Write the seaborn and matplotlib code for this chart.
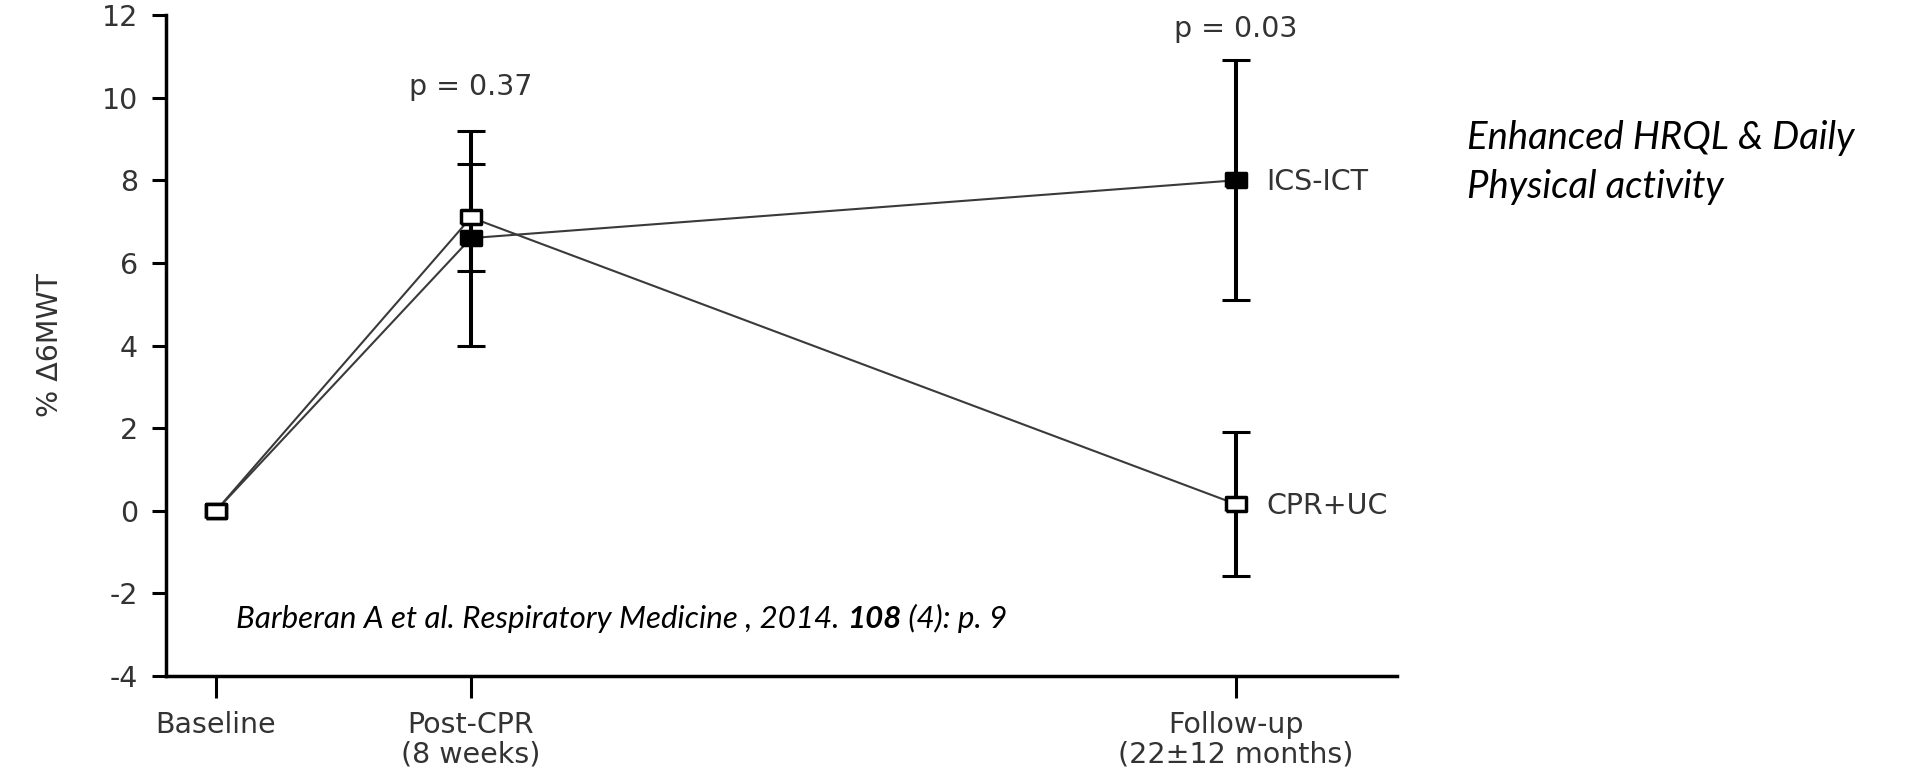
import pandas as pd
import seaborn as sns
import matplotlib.pyplot as plt

# 1. Dados (% de variação no 6MWT)
momentos = ['Baseline', 'Post-CPR\n(8 weeks)', 'Follow-up\n(22±12 months)']
posicao_x = [0, 1, 4]
grupos = ['ICS-ICT', 'CPR+UC']
ics_ict = [0, 6.6, 8.0]
ics_ict_erro = [0, 2.6, 2.9]
cpr_uc = [0, 7.1, 0.16]
cpr_uc_erro = [0, 1.3, 1.75]
p_valores = ['p = 0.37', 'p = 0.03']
y_ticks = [-4, -2, 0, 2, 4, 6, 8, 10, 12]

df = pd.DataFrame({
    'x': posicao_x * 2,
    'valor': ics_ict + cpr_uc,
    'erro': ics_ict_erro + cpr_uc_erro,
    'grupo': [grupos[0]] * 3 + [grupos[1]] * 3,
})

# 2. Estilo
sns.set_theme(style="ticks")
plt.rcParams['font.family'] = ['DejaVu Sans']
plt.rcParams['axes.unicode_minus'] = False
cor_texto = '#333333'
tam = 20.5

fig = plt.figure(figsize=(19.16, 7.71), dpi=100)
ax = fig.add_axes([0.0866, 0.1232, 0.6425, 0.8573])

# marcador retangular (os quadrados do artigo são achatados)
retangulo = [(-1.45, -1), (1.45, -1), (1.45, 1), (-1.45, 1), (-1.45, -1)]

# 3. Linhas, marcadores e barras de erro
for grupo, cor_face in [('ICS-ICT', 'black'), ('CPR+UC', 'white')]:
    d = df[df['grupo'] == grupo]
    e = d[d['erro'] > 0]
    ax.errorbar(e['x'], e['valor'], yerr=e['erro'], fmt='none', ecolor='black',
                elinewidth=2.9, capsize=10, capthick=2.2, zorder=2)
    sns.lineplot(data=d, x='x', y='valor', ax=ax, color='#3a3a3a', linewidth=1.5,
                 marker=retangulo, markersize=14.5, markerfacecolor=cor_face,
                 markeredgecolor='black', markeredgewidth=2.5, zorder=3,
                 errorbar=None, legend=False)
    ultimo = d.iloc[-1]
    ax.annotate(grupo, xy=(ultimo['x'], ultimo['valor']), xytext=(22, -1.5),
                textcoords='offset points', va='center', ha='left',
                fontsize=tam, color=cor_texto)

# valores de p acima das barras
ax.text(posicao_x[1], 10.06, p_valores[0], ha='center', va='baseline', fontsize=tam, color=cor_texto)
ax.text(posicao_x[2], 11.47, p_valores[1], ha='center', va='baseline', fontsize=tam, color=cor_texto)

# 4. Eixos
ax.set_xlim(-0.196, 4.631)
ax.set_ylim(-4, 12)
ax.set_xticks(posicao_x, momentos)
ax.set_yticks(y_ticks)
ax.set_xlabel('')
ax.set_ylabel('% Δ6MWT', fontsize=tam, color=cor_texto)
ax.yaxis.set_label_coords(-0.083, 0.5)
sns.despine(ax=ax)
for lado in ['left', 'bottom']:
    ax.spines[lado].set_linewidth(2.5)
    ax.spines[lado].set_color('black')
ax.tick_params(axis='y', length=10, width=2.2, pad=10, labelsize=tam, labelcolor=cor_texto, color='black')
ax.tick_params(axis='x', length=16, width=2.2, pad=9, labelsize=tam, labelcolor=cor_texto, color='black')
for rotulo in ax.get_xticklabels():
    rotulo.set_linespacing(1.1)

# 5. Textos extras (referência e destaque)
t1 = fig.text(0.1232, 0.1856, 'Barberan A et al. Respiratory Medicine , 2014. ',
              family='Lato', style='italic', fontsize=22.5, va='baseline', color='black')
t2 = fig.text(0, 0, '108', family='Lato', style='italic', weight='bold', fontsize=22.5, color='black')
t3 = fig.text(0, 0, ' (4): p. 9', family='Lato', style='italic', fontsize=22.5, color='black')
fig.canvas.draw()
r = fig.canvas.get_renderer()
bb = t1.get_window_extent(r)
t2.set_position((bb.x1 / fig.bbox.width, t1.get_position()[1]))
t2.set_va('baseline')
bb2 = t2.get_window_extent(r)
t3.set_position((bb2.x1 / fig.bbox.width, t1.get_position()[1]))
t3.set_va('baseline')

fig.text(0.7655, 0.8067, 'Enhanced HRQL & Daily', family='Lato',
         style='italic', fontsize=27.5, va='baseline', ha='left', color='black')
fig.text(0.7655, 0.7427, 'Physical activity', family='Lato',
         style='italic', fontsize=27.5, va='baseline', ha='left', color='black')

plt.savefig('out.png', dpi=100)
